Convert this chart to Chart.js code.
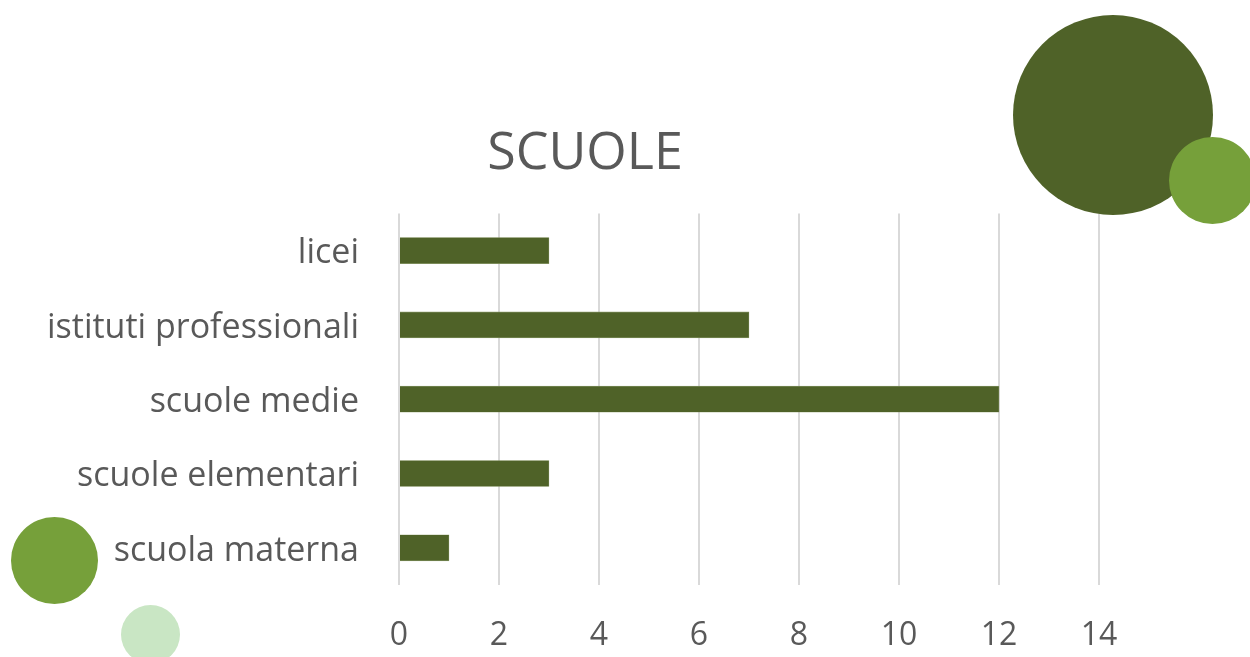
<!DOCTYPE html>
<html>
<head>
<meta charset="utf-8">
<script src="https://cdn.jsdelivr.net/npm/chart.js@4/dist/chart.umd.min.js"></script>
<style>
  html, body { margin: 0; padding: 0; background: #ffffff; }
  #wrap { position: relative; width: 1250px; height: 657px; overflow: hidden; background: #fff; }
  #box { position: absolute; left: 0; top: 0; width: 1170px; height: 657px; }
  .dot { position: absolute; border-radius: 50%; }
</style>
</head>
<body>
<div id="wrap">
  <div id="box"><canvas id="c"></canvas></div>
  <div class="dot" style="left:1013px;top:15px;width:200px;height:200px;background:#4f6228;"></div>
  <div class="dot" style="left:1169px;top:137px;width:87px;height:87px;background:#76a03a;"></div>
  <div class="dot" style="left:11px;top:517px;width:87px;height:87px;background:#76a03a;"></div>
  <div class="dot" style="left:121px;top:605px;width:59px;height:59px;background:#c9e6c4;"></div>
</div>
<script>
const title = 'SCUOLE';
const categories = ['licei', 'istituti professionali', 'scuole medie', 'scuole elementari', 'scuola materna'];
const values = [3, 7, 12, 3, 1];
const axisMin = 0;
const axisMax = 14;
const axisStep = 2;

const textColor = '#595959';
const fontFamily = '"Open Sans", "DejaVu Sans", sans-serif';

// centre the title over the region [71, chartArea.right] like the original
const titleShift = {
  id: 'titleShift',
  afterLayout(chart) {
    if (chart.titleBlock) { chart.titleBlock.left = 71; }
  }
};

new Chart(document.getElementById('c'), {
  type: 'bar',
  data: {
    labels: categories,
    datasets: [{
      data: values,
      backgroundColor: '#4f6228',
      borderColor: '#8a9a6a',
      borderWidth: 0.6,
      barThickness: 26
    }]
  },
  plugins: [titleShift],
  options: {
    indexAxis: 'y',
    responsive: true,
    maintainAspectRatio: false,
    animation: false,
    layout: { padding: { left: 0, right: 71, top: 0, bottom: 0 } },
    plugins: {
      legend: { display: false },
      tooltip: { enabled: false },
      title: {
        display: true,
        text: title,
        color: textColor,
        font: { family: fontFamily, size: 52, weight: 'normal' },
        padding: { top: 123, bottom: 28 }
      }
    },
    scales: {
      x: {
        min: axisMin,
        max: axisMax,
        ticks: {
          stepSize: axisStep,
          color: textColor,
          font: { family: fontFamily, size: 32 },
          padding: 32
        },
        grid: { color: '#d9d9d9', lineWidth: 2, drawTicks: false },
        border: { display: false },
        afterFit: s => { s.height = 72; }
      },
      y: {
        ticks: {
          color: textColor,
          font: { family: fontFamily, size: 34 },
          padding: 40,
          labelOffset: 3
        },
        grid: { display: false, drawTicks: false },
        border: { display: false },
        afterFit: s => { s.width = 399; }
      }
    }
  }
});
</script>
</body>
</html>
